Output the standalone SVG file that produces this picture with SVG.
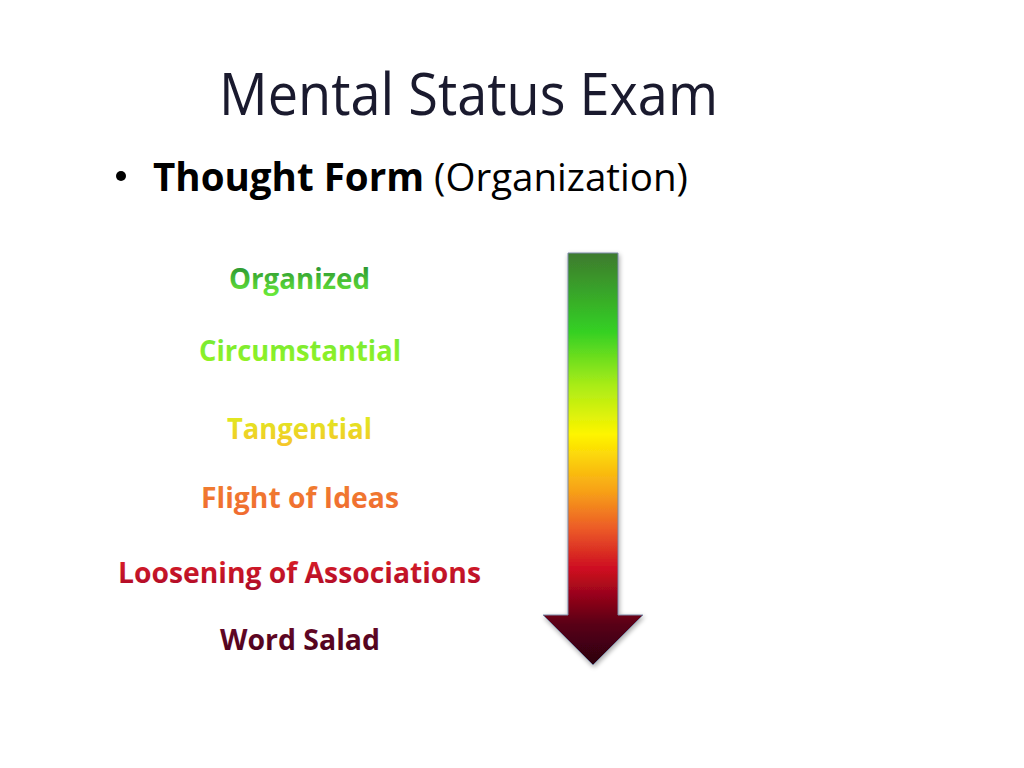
<svg xmlns="http://www.w3.org/2000/svg" width="1024" height="768" viewBox="0 0 1024 768">
<defs>
<style>
.t{font-family:"Open Sans","Liberation Sans",sans-serif;}
.lbl{font-family:"Open Sans","Liberation Sans",sans-serif;font-weight:bold;font-size:28px;text-anchor:middle;}
</style>
<linearGradient id="arr" gradientUnits="userSpaceOnUse" x1="0" y1="253" x2="0" y2="665">
<stop offset="0" stop-color="#3d7a2e"/>
<stop offset="0.19" stop-color="#34d024"/>
<stop offset="0.32" stop-color="#a8ec18"/>
<stop offset="0.44" stop-color="#fef500"/>
<stop offset="0.58" stop-color="#f7a018"/>
<stop offset="0.67" stop-color="#ec5a28"/>
<stop offset="0.77" stop-color="#cc0a20"/>
<stop offset="0.9" stop-color="#5a0014"/>
<stop offset="1" stop-color="#2a0010"/>
</linearGradient>
<linearGradient id="g1" x1="0" y1="0" x2="0" y2="1"><stop offset="0" stop-color="#1a8030"/><stop offset="1" stop-color="#6ef03a"/></linearGradient>
<linearGradient id="g2" x1="0" y1="0" x2="0" y2="1"><stop offset="0" stop-color="#6ee83a"/><stop offset="1" stop-color="#9af41e"/></linearGradient>
<linearGradient id="g3" x1="0" y1="0" x2="0" y2="1"><stop offset="0" stop-color="#daf21e"/><stop offset="1" stop-color="#f7c42a"/></linearGradient>
<linearGradient id="g4" x1="0" y1="0" x2="0" y2="1"><stop offset="0" stop-color="#f08030"/><stop offset="1" stop-color="#f06a30"/></linearGradient>
<linearGradient id="g5" x1="0" y1="0" x2="0" y2="1"><stop offset="0" stop-color="#e42228"/><stop offset="1" stop-color="#a80828"/></linearGradient>
<linearGradient id="g6" x1="0" y1="0" x2="0" y2="1"><stop offset="0" stop-color="#6c0a2a"/><stop offset="1" stop-color="#48001a"/></linearGradient>
<filter id="sh" x="-30%" y="-10%" width="160%" height="120%">
<feGaussianBlur in="SourceAlpha" stdDeviation="2.5"/>
<feOffset dx="1" dy="2" result="b"/>
<feComponentTransfer><feFuncA type="linear" slope="0.35"/></feComponentTransfer>
<feMerge><feMergeNode/><feMergeNode in="SourceGraphic"/></feMerge>
</filter>
</defs>
<rect width="1024" height="768" fill="#ffffff"/>
<g id="title">
<text class="t" x="219" y="115" font-size="58" fill="#1a1a2e" textLength="499" lengthAdjust="spacingAndGlyphs">Mental Status Exam</text>
</g>
<g id="bullet">
<circle cx="121" cy="176" r="5" fill="#000"/>
<text class="t" x="153" y="191" font-size="39" fill="#000" textLength="535" lengthAdjust="spacingAndGlyphs"><tspan font-weight="bold">Thought Form</tspan> (Organization)</text>
</g>
<g id="arrow" filter="url(#sh)">
<path d="M568,253 H618 V615 H643 L593,665 L543,615 H568 Z" fill="url(#arr)" stroke="#7a8aa8" stroke-width="1"/>
</g>
<g id="n-organized"><text class="lbl" x="299.5" y="289" fill="url(#g1)" textLength="141" lengthAdjust="spacingAndGlyphs">Organized</text></g>
<g id="n-circumstantial"><text class="lbl" x="300" y="361" fill="url(#g2)" textLength="202" lengthAdjust="spacingAndGlyphs">Circumstantial</text></g>
<g id="n-tangential"><text class="lbl" x="299.5" y="439" fill="url(#g3)" textLength="145" lengthAdjust="spacingAndGlyphs">Tangential</text></g>
<g id="n-flight"><text class="lbl" x="300" y="508" fill="url(#g4)" textLength="198" lengthAdjust="spacingAndGlyphs">Flight of Ideas</text></g>
<g id="n-loosening"><text class="lbl" x="299.5" y="583" fill="url(#g5)" textLength="363" lengthAdjust="spacingAndGlyphs">Loosening of Associations</text></g>
<g id="n-wordsalad"><text class="lbl" x="300" y="650" fill="url(#g6)" textLength="160" lengthAdjust="spacingAndGlyphs">Word Salad</text></g>
<g id="connectors"/>
</svg>
